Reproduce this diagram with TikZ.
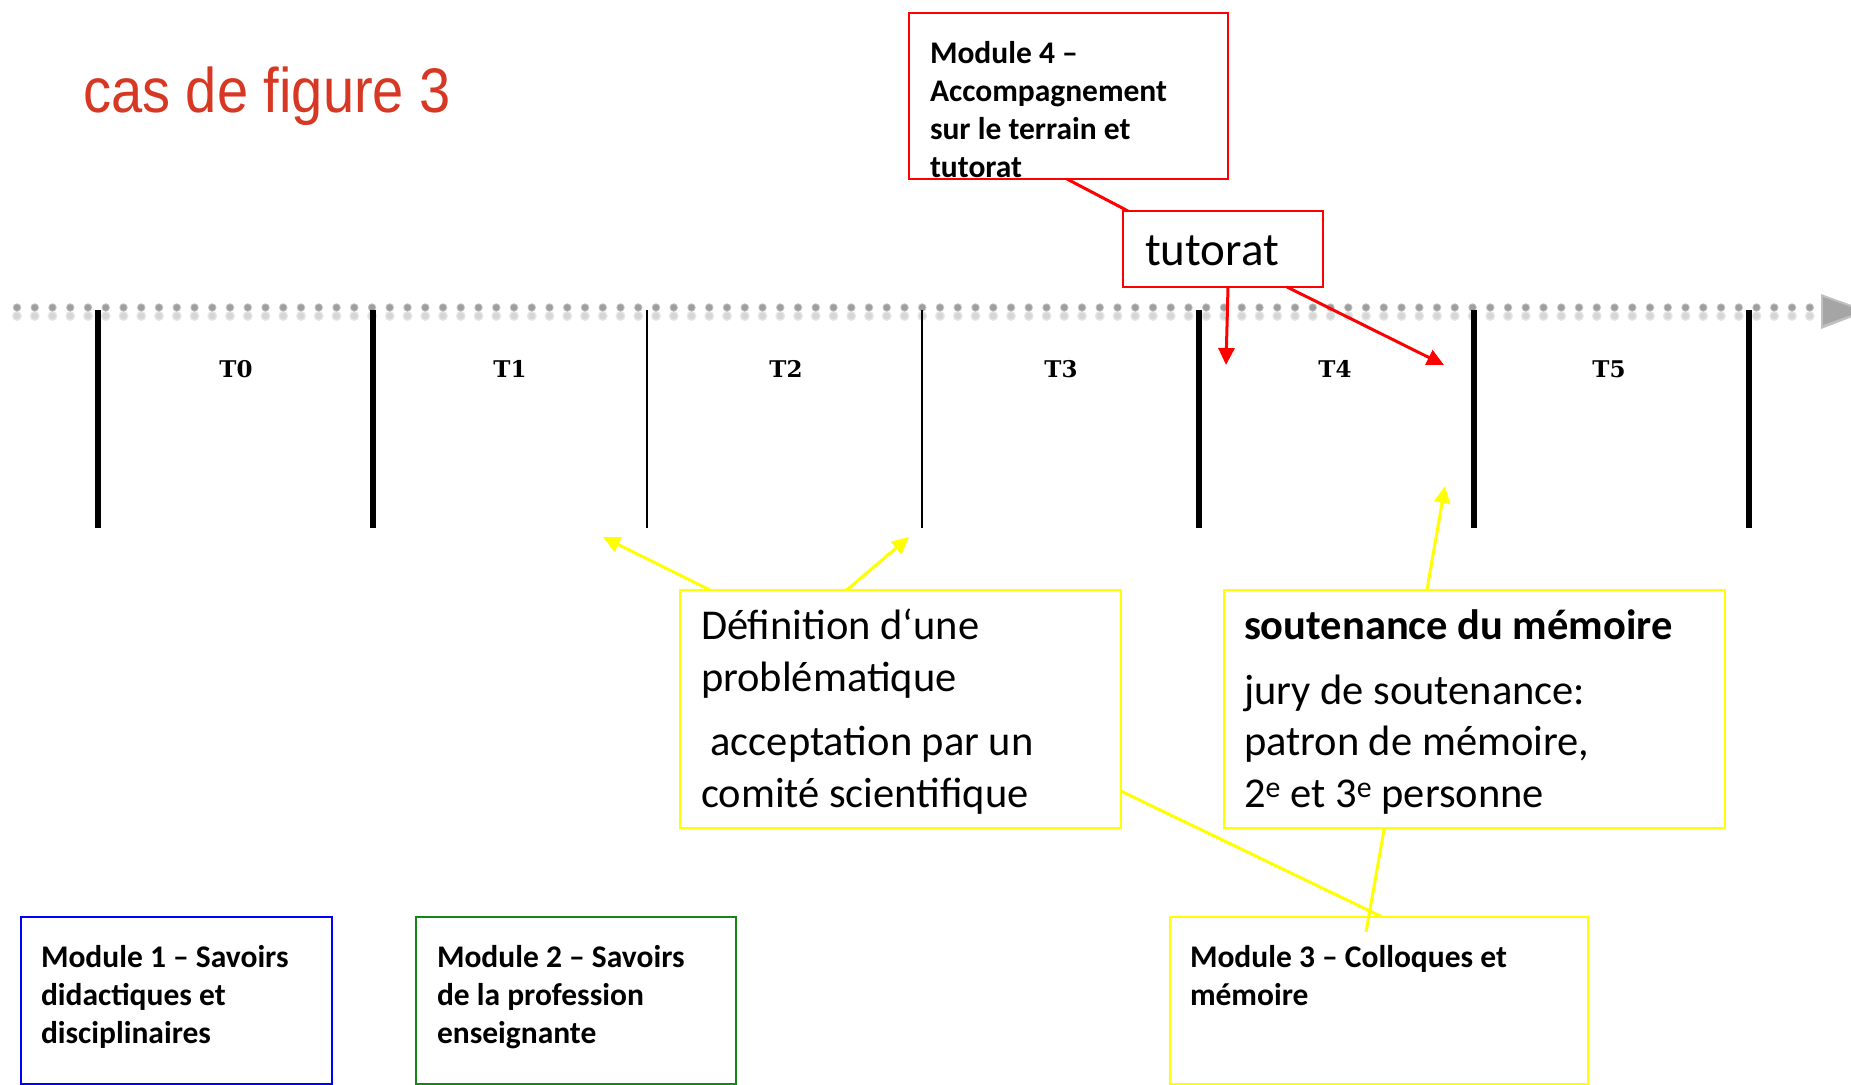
\documentclass[tikz,border=0pt]{standalone}
\usepackage{fontspec}
\setmainfont{Carlito}
\newfontfamily\headfont[FakeStretch=0.89]{Liberation Sans}
\newfontfamily\slotfont{DejaVu Serif}
\usetikzlibrary{arrows.meta,calc}
\definecolor{titlered}{RGB}{214,56,36}
\definecolor{boxred}{RGB}{255,0,0}
\definecolor{boxyellow}{RGB}{255,255,0}
\definecolor{boxblue}{RGB}{0,0,255}
\definecolor{boxgreen}{RGB}{20,135,20}
\definecolor{dotgray}{RGB}{158,158,158}
\definecolor{dotshadow}{RGB}{214,214,214}
\definecolor{headgray}{RGB}{165,165,165}

\begin{document}
\begin{tikzpicture}[x=1pt,y=-1pt,
  frame/.style={draw, line width=2.2pt, anchor=north west, inner sep=0pt, outer sep=0pt},
  blocktext/.style={anchor=north west, inner sep=0pt, outer sep=0pt, align=left},
  modfont/.style={font=\fontsize{31.5}{38}\selectfont\bfseries},
  bigfont/.style={font=\fontsize{42.5}{51.5}\selectfont},
  slot/.style={font=\slotfont\bfseries\fontsize{23}{27}\selectfont, anchor=base, inner sep=0pt},
  thickbar/.style={line width=6.5pt},
  thinbar/.style={line width=2pt},
  pointer/.style={line width=3pt, -{Triangle[length=17pt,width=16pt]}},
  link/.style={line width=3pt},
  dots/.style={line cap=round, dash pattern=on 0pt off 17.75pt},
]
\useasboundingbox (0,0) rectangle (1851,1084);
\clip (0,0) rectangle (1851,1084);

% title
\node[anchor=base west, inner sep=0pt, text=titlered,
      font=\headfont\fontsize{63}{70}\selectfont] (title) at (83,112) {cas de figure 3};

% dotted time axis with its soft shadow and arrow head
\draw[dotshadow!60, line width=10pt, dots] (17,316) -- (1815,316);
\draw[dotshadow, line width=7pt, dots] (17,316) -- (1815,316);
\draw[dotgray!60, line width=8.5pt, dots] (17,307.5) -- (1815,307.5);
\draw[dotgray, line width=6.5pt, dots] (17,307.5) -- (1815,307.5);
\fill[headgray!70] (1821,294) -- (1868,311) -- (1821,329) -- cycle;
\fill[headgray] (1823,297) -- (1862,311) -- (1823,325) -- cycle;

% period separators
\foreach \x in {98,373,1199,1474,1749} \draw[thickbar] (\x,310) -- (\x,528);
\foreach \x in {647,922} \draw[thinbar] (\x,310) -- (\x,528);

% period labels
\node[slot] (t0) at (236,377) {T0};
\node[slot] (t1) at (510,377) {T1};
\node[slot] (t2) at (786,377) {T2};
\node[slot] (t3) at (1061,377) {T3};
\node[slot] (t4) at (1335,377) {T4};
\node[slot] (t5) at (1609,377) {T5};

% module 4 and tutoring
\node[frame, draw=boxred, minimum width=319pt, minimum height=166pt] (m4) at (909,13) {};
\node[blocktext, modfont] (m4txt) at (930,31.5)
  {\rule{0pt}{1em}Module 4 –\\Accompagnement\\sur le terrain et\\tutorat};
\node[frame, draw=boxred, minimum width=200pt, minimum height=76pt] (tut) at (1123,211) {};
\node[anchor=base west, inner sep=0pt, font=\fontsize{47}{56}\selectfont] (tuttxt) at (1145,265) {tutorat};

\draw[boxred, link] ($(m4.south west)!0.495!(m4.south east)$) -- ($(tut.north west)!0.025!(tut.north east)$);
\coordinate (tipT4a) at (1226,365);
\coordinate (tipT4b) at (1444,365);
\draw[boxred, pointer] ($(tut.south west)!0.525!(tut.south east)$) -- (tipT4a);
\draw[boxred, pointer] ($(tut.south west)!0.82!(tut.south east)$) -- (tipT4b);

% research question box
\node[frame, draw=boxyellow, minimum width=441pt, minimum height=238pt] (def) at (680,590) {};
\node[blocktext, bigfont] (deftxt) at (701,597)
  {\rule{0pt}{1em}Définition d‘une\\problématique\\[13pt]\ acceptation par un\\comité scientifique};
\coordinate (tipT2a) at (603,537);
\coordinate (tipT2b) at (909,537);
\draw[boxyellow, pointer] ($(def.north west)!0.068!(def.north east)$) -- (tipT2a);
\draw[boxyellow, pointer] ($(def.north west)!0.378!(def.north east)$) -- (tipT2b);

% defence box
\node[frame, draw=boxyellow, minimum width=501pt, minimum height=238pt] (sout) at (1224,590) {};
\node[blocktext, bigfont] (souttxt) at (1244,597)
  {\rule{0pt}{1em}\textbf{soutenance du mémoire}\\[13pt]jury de soutenance:\\patron de mémoire,\\2\textsuperscript{e} et 3\textsuperscript{e} personne};
\coordinate (tipT4c) at (1445,486);
\draw[boxyellow, pointer] ($(sout.north west)!0.405!(sout.north east)$) -- (tipT4c);

% modules along the bottom
\node[frame, draw=boxblue, minimum width=311pt, minimum height=167pt] (m1) at (21,917) {};
\node[blocktext, modfont] (m1txt) at (41,935.5)
  {\rule{0pt}{1em}Module 1 – Savoirs\\didactiques et\\disciplinaires};
\node[frame, draw=boxgreen, minimum width=320pt, minimum height=167pt] (m2) at (416,917) {};
\node[blocktext, modfont] (m2txt) at (437,935.5)
  {\rule{0pt}{1em}Module 2 – Savoirs\\de la profession\\enseignante};
\node[frame, draw=boxyellow, minimum width=418pt, minimum height=167pt] (m3) at (1170,917) {};
\node[blocktext, modfont] (m3txt) at (1190,935.5)
  {\rule{0pt}{1em}Module 3 – Colloques et\\mémoire};

\coordinate (m3inner) at (1366,932);
\draw[boxyellow, link] ($(m3.north west)!0.508!(m3.north east)$) -- ($(def.north east)!0.845!(def.south east)$);
\draw[boxyellow, link] (m3inner) -- ($(sout.south west)!0.32!(sout.south east)$);
\end{tikzpicture}
\end{document}
